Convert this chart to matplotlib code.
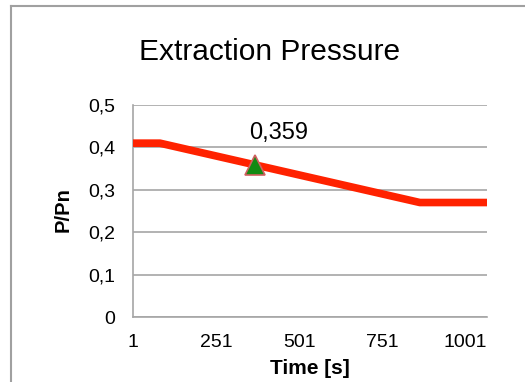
import matplotlib.pyplot as plt
from matplotlib.lines import Line2D

plt.rcParams['font.family'] = ['Liberation Sans', 'DejaVu Sans']

# breakpoints of the pressure curve
time_s = [1, 82, 864, 1066]
pressure = [0.41, 0.41, 0.27, 0.27]
marker_t = [367]
marker_p = [0.359]
marker_label = '0,359'
y_ticks = [0, 0.1, 0.2, 0.3, 0.4, 0.5]
y_labels = ['0', '0,1', '0,2', '0,3', '0,4', '0,5']
x_ticks = [1, 251, 501, 751, 1001]

fig = plt.figure(figsize=(5.25, 3.82), dpi=100)
W, H = 525, 382
ax = fig.add_axes([133 / W, 1 - 317 / H, (487 - 133) / W, (317 - 105) / H])

ax.plot(time_s, pressure, color='#ff2200', linewidth=5.5, solid_capstyle='butt', zorder=3)
ax.plot(marker_t, marker_p, marker='^', markersize=14, markerfacecolor='#138a13',
        markeredgecolor='#d06060', markeredgewidth=1.2, linestyle='none', zorder=4)
ax.annotate(marker_label, xy=(marker_t[0], marker_p[0]), xytext=(24, 32),
            textcoords='offset pixels', ha='center', va='center', fontsize=17)

ax.set_xlim(1, 1066)
ax.set_ylim(0, 0.5)
ax.set_yticks(y_ticks)
ax.set_yticklabels(y_labels)
ax.set_xticks(x_ticks)
ax.set_xticklabels([str(t) for t in x_ticks])
ax.tick_params(length=0, labelsize=14)
ax.tick_params(axis='x', pad=12)
ax.tick_params(axis='y', pad=13)
ax.grid(axis='y', color='#a6a6a6', linewidth=1.2)
ax.set_axisbelow(True)
for side in ['top', 'right']:
    ax.spines[side].set_visible(False)
for side in ['left', 'bottom']:
    ax.spines[side].set_color('#a6a6a6')
    ax.spines[side].set_linewidth(1.2)

fig.text(270 / W, 1 - 52 / H, 'Extraction Pressure', ha='center', va='center', fontsize=21.5)
fig.text(63 / W, 1 - 210 / H, 'P/Pn', ha='center', va='center', rotation=90,
         fontsize=14.5, fontweight='bold')
fig.text(310 / W, 1 - 368 / H, 'Time [s]', ha='center', va='center',
         fontsize=15, fontweight='bold')

# chart frame (cropped: only top and left edges visible)
fig.add_artist(Line2D([11 / W, 1], [1 - 6 / H, 1 - 6 / H], color='#a0a0a0', linewidth=1.5))
fig.add_artist(Line2D([11 / W, 11 / W], [0, 1 - 6 / H], color='#a0a0a0', linewidth=1.5))

fig.savefig('out.png', dpi=100)
